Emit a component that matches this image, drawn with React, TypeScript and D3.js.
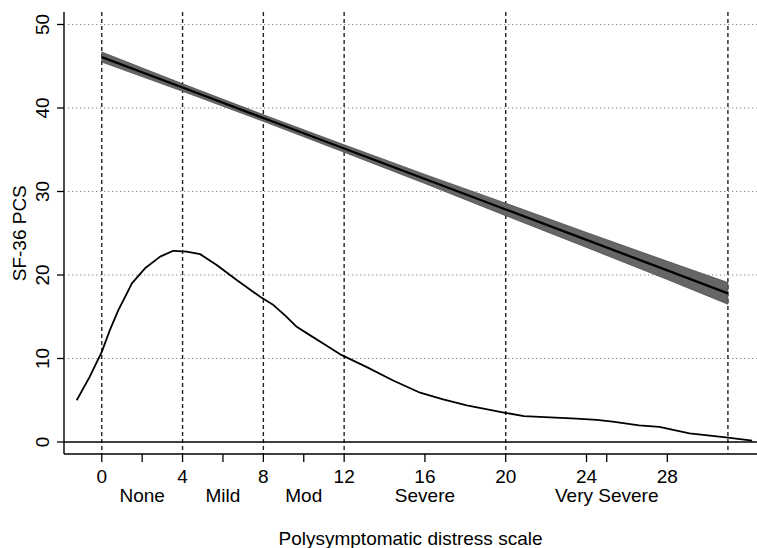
import React from "react";
import * as d3 from "d3";

const majorTicks = [0, 4, 8, 12, 16, 20, 24, 28];
const categoryTicks = [2, 6, 10, 16, 25];
const categoryLabels = ["None", "Mild", "Mod", "Severe", "Very Severe"];
const cutLines = [0, 4, 8, 12, 20, 31];
const yTicks = [0, 10, 20, 30, 40, 50];

const fitX = [0, 4, 8, 12, 16, 20, 24, 28, 31];
const fitY = [46.1, 42.45, 38.8, 35.15, 31.5, 27.85, 24.2, 20.55, 17.8];
const fitUpper = [46.7, 42.9, 39.2, 35.6, 32.05, 28.6, 25.1, 21.65, 19.1];
const fitLower = [45.5, 42.0, 38.4, 34.7, 30.95, 27.1, 23.3, 19.45, 16.5];

const densX = [-1.24, -0.6, 0, 0.4, 0.82, 1.2, 1.49, 2.14, 2.89, 3.54, 4.2, 4.87, 5.69, 6.68, 7.84, 8.5, 9.1, 9.65, 10.3, 11.1, 11.88, 13.1, 14.4, 15.76, 16.9, 18.07, 18.9, 19.97, 20.9, 22.2, 23.5, 24.5, 25.3, 26.6, 27.6, 29.1, 30.9, 32.2];
const densY = [5.0, 7.8, 10.8, 13.4, 15.8, 17.6, 19.0, 20.8, 22.2, 22.9, 22.8, 22.5, 21.2, 19.4, 17.4, 16.4, 15.1, 13.8, 12.8, 11.6, 10.4, 9.0, 7.4, 5.9, 5.1, 4.4, 4.0, 3.5, 3.1, 2.96, 2.8, 2.65, 2.45, 2.0, 1.8, 1.04, 0.56, 0.16];

const W = 757;
const H = 548;
const FONT = "'Liberation Sans', Arial, Helvetica, sans-serif";
const FS = 19;

export default function App() {
  const x = d3.scaleLinear().domain([-1.87, 32.44]).range([64, 757]);
  const y = d3.scaleLinear().domain([0, 50]).range([442, 24.5]);
  const axisTop = 12;
  const axisBottom = 454;

  const band = d3
    .area<number>()
    .x((_, i) => x(fitX[i]))
    .y0((_, i) => y(fitLower[i]))
    .y1((_, i) => y(fitUpper[i]));
  const fitLine = d3
    .line<number>()
    .x((_, i) => x(fitX[i]))
    .y((d) => y(d));
  const densLine = d3
    .line<number>()
    .x((_, i) => x(densX[i]))
    .y((d) => y(d));

  return (
    <svg
      width={W}
      height={H}
      style={{ position: "absolute", left: 0, top: 0, background: "#fff" }}
      fontFamily={FONT}
    >
      {yTicks.filter((t) => t > 0).map((t) => (
        <line
          key={"g" + t}
          x1={x.range()[0] + 4}
          x2={W}
          y1={y(t)}
          y2={y(t)}
          stroke="#888"
          strokeWidth={1.2}
          strokeDasharray="1.3,2.7"
        />
      ))}
      {cutLines.map((c) => (
        <line
          key={"c" + c}
          x1={x(c)}
          x2={x(c)}
          y1={axisTop}
          y2={axisBottom}
          stroke="#222"
          strokeWidth={1.4}
          strokeDasharray="4,3"
        />
      ))}
      <path d={band(fitY) || ""} fill="#666" stroke="#444" strokeWidth={0.7} />
      <path d={fitLine(fitY) || ""} fill="none" stroke="#000" strokeWidth={2.3} />
      <path d={densLine(densY) || ""} fill="none" stroke="#000" strokeWidth={1.8} strokeLinejoin="round" />
      <line x1={64} x2={W} y1={y(0)} y2={y(0)} stroke="#000" strokeWidth={1.5} />
      <line x1={64} x2={64} y1={axisTop} y2={axisBottom} stroke="#000" strokeWidth={1.4} />
      <line x1={64} x2={W} y1={axisBottom} y2={axisBottom} stroke="#000" strokeWidth={1.4} />
      {yTicks.map((t) => (
        <g key={"yt" + t}>
          <line x1={57} x2={64} y1={y(t)} y2={y(t)} stroke="#000" strokeWidth={1.3} />
          <text
            transform={`translate(49,${y(t)}) rotate(-90)`}
            textAnchor="middle"
            fontSize={FS}
            fill="#000"
          >
            {t}
          </text>
        </g>
      ))}
      <text
        transform={`translate(26,${(y(0) + y(50)) / 2}) rotate(-90)`}
        textAnchor="middle"
        fontSize={FS}
        fill="#000"
      >
        SF-36 PCS
      </text>
      {Array.from(new Set([...majorTicks, ...categoryTicks])).map((t) => (
        <line
          key={"xt" + t}
          x1={x(t)}
          x2={x(t)}
          y1={axisBottom}
          y2={axisBottom + 8}
          stroke="#000"
          strokeWidth={1.3}
        />
      ))}
      {majorTicks.map((t) => (
        <text key={"xl" + t} x={x(t)} y={482.5} textAnchor="middle" fontSize={FS} fill="#000">
          {t}
        </text>
      ))}
      {categoryTicks.map((t, i) => (
        <text key={"cl" + t} x={x(t)} y={501.5} textAnchor="middle" fontSize={FS} fill="#000">
          {categoryLabels[i]}
        </text>
      ))}
      <text x={(64 + W) / 2} y={544.5} textAnchor="middle" fontSize={FS} fill="#000">
        Polysymptomatic distress scale
      </text>
    </svg>
  );
}
